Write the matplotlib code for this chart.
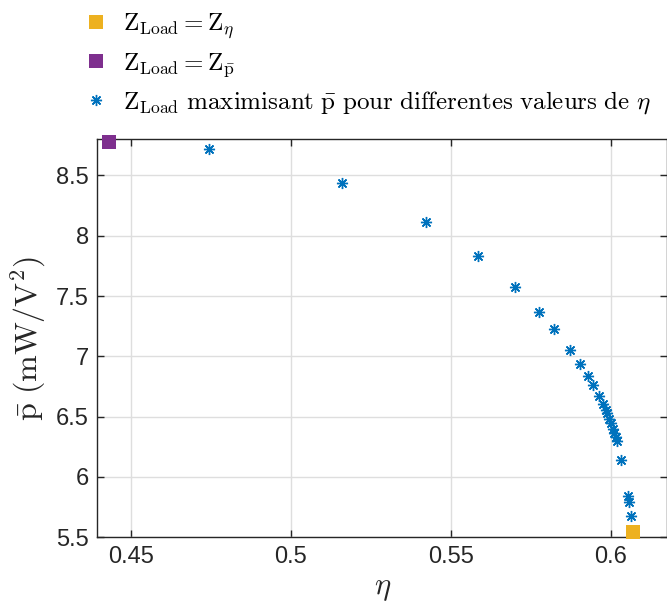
import matplotlib
matplotlib.use("Agg")
import matplotlib.pyplot as plt

plt.rcParams['mathtext.fontset'] = 'cm'
plt.rcParams['font.family'] = ['Liberation Sans', 'DejaVu Sans']

# points Z_Load maximisant p pour differentes valeurs de eta
eta_pts = [0.4745, 0.5160, 0.5423, 0.5584, 0.5700, 0.5775, 0.5823, 0.5874,
           0.5904, 0.5929, 0.5944, 0.5963, 0.5976, 0.5984, 0.5989, 0.5996,
           0.6000, 0.6006, 0.6010, 0.6017, 0.6021, 0.6032, 0.6053, 0.6056,
           0.6063]
p_pts = [8.716, 8.434, 8.111, 7.829, 7.572, 7.371, 7.226, 7.056,
         6.939, 6.834, 6.764, 6.674, 6.602, 6.556, 6.527, 6.478,
         6.444, 6.399, 6.366, 6.331, 6.298, 6.138, 5.839, 5.794,
         5.676]

# Z_Load = Z_eta
eta_opt_eta = [0.6071]
p_opt_eta = [5.543]
# Z_Load = Z_p
eta_opt_p = [0.4432]
p_opt_p = [8.777]

xticks = [0.45, 0.5, 0.55, 0.6]
yticks = [5.5, 6, 6.5, 7, 7.5, 8, 8.5]

fig = plt.figure(figsize=(6.67, 6.06), dpi=100)
ax = fig.add_axes([0.1459, 0.1134, 0.8541, 0.6568])

h1, = ax.plot(eta_opt_eta, p_opt_eta, 's', color='#EDB120', markersize=10,
              markeredgewidth=0, clip_on=False, zorder=4)
h2, = ax.plot(eta_opt_p, p_opt_p, 's', color='#7E2F8E', markersize=10,
              markeredgewidth=0, clip_on=False, zorder=4)
h3, = ax.plot(eta_pts, p_pts, linestyle='none', marker=(8, 2, 0),
              color='#0072BD', markersize=8, markeredgewidth=1.0, zorder=3)

ax.set_xlim(0.4396, 0.6176)
ax.set_ylim(5.5, 8.8)
ax.set_xticks(xticks)
ax.set_xticklabels(['0.45', '0.5', '0.55', '0.6'])
ax.set_yticks(yticks)
ax.set_yticklabels(['5.5', '6', '6.5', '7', '7.5', '8', '8.5'])

ax.grid(True, color='#dedede', linewidth=1.0)
ax.set_axisbelow(True)
ax.tick_params(direction='in', length=5, width=1, colors='#262626',
               labelsize=17, top=True, right=True, pad=6)
for s in ax.spines.values():
    s.set_color('#262626')
    s.set_linewidth(1.0)

ax.set_xlabel(r'$\eta$', fontsize=22, color='#262626', labelpad=4)
ax.set_ylabel(r'$\mathrm{\bar{p}\ (mW/V^2)}$', fontsize=23, color='#262626',
              labelpad=6)

labels = [r'$\mathrm{Z_{Load} = Z_{\eta}}$',
          r'$\mathrm{Z_{Load} = Z_{\bar{p}}}$',
          r'$\mathrm{Z_{Load}\ maximisant\ \bar{p}\ pour\ differentes\ valeurs\ de\ }\eta$']
fig.legend([h1, h2, h3], labels, loc='upper left',
           bbox_to_anchor=(0.108, 1.0), frameon=False, fontsize=18,
           handlelength=1.0, handletextpad=0.6, labelspacing=0.4,
           borderaxespad=0.05)

fig.savefig('out.png', dpi=100)
